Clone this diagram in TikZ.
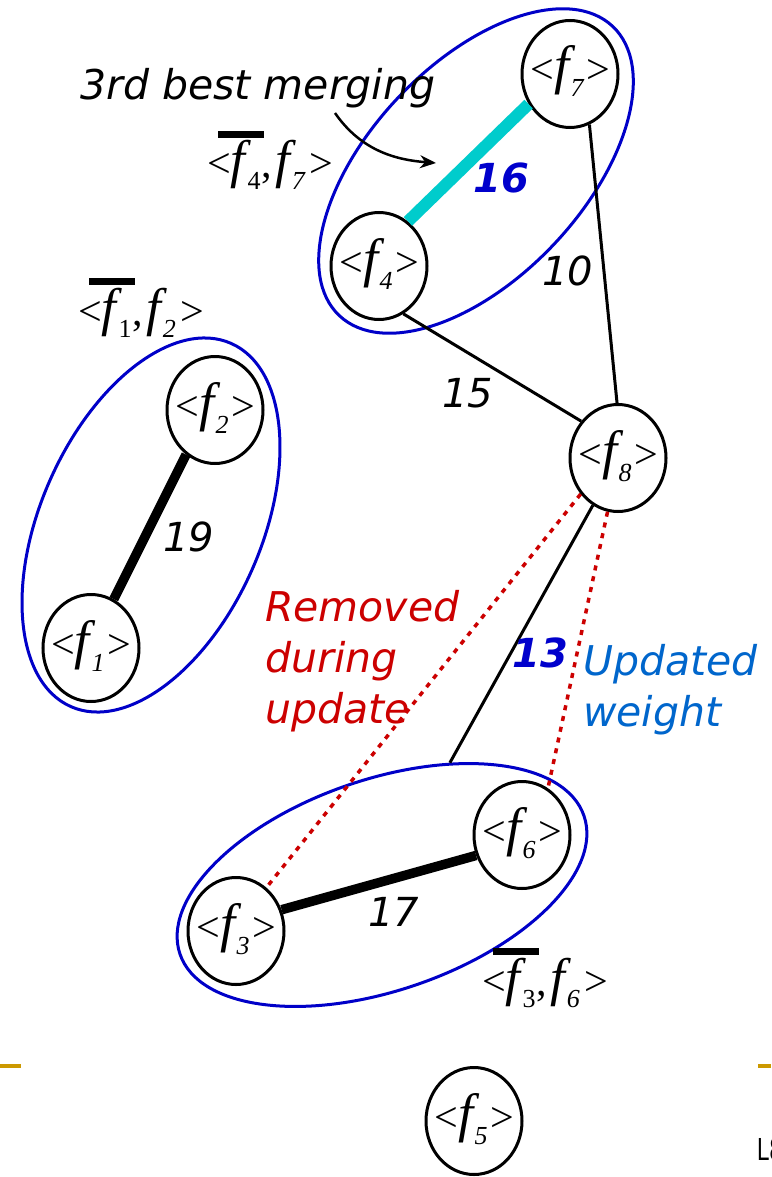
\documentclass[tikz,border=0pt]{standalone}
\usepackage{fontspec}
\usetikzlibrary{shapes.geometric,arrows.meta}
\newfontfamily\vfont{DejaVu Sans}
\newfontfamily\tfont{Liberation Serif}
\definecolor{grpblue}{RGB}{0,0,200}
\definecolor{wblue}{RGB}{0,0,204}
\definecolor{updblue}{RGB}{0,102,204}
\definecolor{remred}{RGB}{204,0,0}
\definecolor{mergecyan}{RGB}{0,204,204}
\definecolor{rulegold}{RGB}{204,153,0}
% <f_i> inside a cluster node (zero-size box so the ellipse keeps its own size)
\newcommand\fsub[1]{\makebox[0pt]{\smash{\raisebox{-10pt}{\tfont\fontsize{42pt}{42pt}\selectfont\textless{\fontsize{54pt}{54pt}\selectfont\itshape f}\kern1.5pt\raisebox{-13pt}{\fontsize{26pt}{26pt}\selectfont\itshape #1}\kern2.5pt\textgreater}}}}
% <f_a,f_b> with the bar over the first member
\newcommand\fpair[2]{{\tfont\fontsize{42pt}{42pt}\selectfont\rlap{\kern11pt\raisebox{40pt}{\rule{46pt}{7pt}}}\textless{\fontsize{53pt}{53pt}\selectfont\itshape f}\kern2pt\raisebox{-12pt}{\fontsize{26pt}{26pt}\selectfont #1}\kern1pt,\kern3pt{\fontsize{53pt}{53pt}\selectfont\itshape f}\kern2pt\raisebox{-12pt}{\fontsize{26pt}{26pt}\selectfont\itshape #2}\kern5pt\textgreater}}
\tikzset{
  x=1pt, y=-1pt,
  fnode/.style={ellipse, draw=black, line width=3pt, fill=white, minimum width=96pt, minimum height=107pt, inner sep=0pt},
  grp/.style={ellipse, draw=grpblue, line width=3pt, inner sep=0pt},
  edge/.style={draw=black, line width=3pt},
  heavy/.style={draw=black, line width=9.5pt},
  merged/.style={draw=mergecyan, line width=12pt},
  rdot/.style={draw=remred, line width=3.5pt, dash pattern=on 5pt off 6pt},
  num/.style={inner sep=0pt, font=\vfont\fontsize{40pt}{48pt}\selectfont\itshape},
  wnum/.style={num, text=wblue, font=\vfont\fontsize{40pt}{48pt}\selectfont\bfseries\itshape},
  note/.style={inner sep=0pt, anchor=base west, align=left, font=\vfont\fontsize{41pt}{51pt}\selectfont\itshape},
}
\begin{document}
\begin{tikzpicture}
\clip (0,0) rectangle (771,1177);
\fill[white] (0,0) rectangle (771,1177);

% merged groups
\node[grp, rotate=46.6, minimum width=398pt, minimum height=214pt] (g47) at (476,171) {};
\node[grp, rotate=66.2, minimum width=397pt, minimum height=221pt] (g12) at (151,525) {};
\node[grp, rotate=18.9, minimum width=427pt, minimum height=211pt] (g36) at (382,885) {};

% clusters
\node[fnode] (f7) at (570,74) {\fsub{7}};
\node[fnode] (f4) at (379,266) {\fsub{4}};
\node[fnode] (f2) at (215,410) {\fsub{2}};
\node[fnode] (f1) at (91,648) {\fsub{1}};
\node[fnode] (f8) at (618,458) {\fsub{8}};
\node[fnode] (f6) at (522,835) {\fsub{6}};
\node[fnode] (f3) at (236,931) {\fsub{3}};
\node[fnode] (f5) at (474,1121) {\fsub{5}};

% edges
\draw[merged] (f4.57) -- (f7.216);
\draw[edge] (f7.-69) -- (f8.91);
\draw[edge] (f4.-63) -- (f8.135);
\draw[heavy] (f2.237) -- (f1.65);
\draw[heavy] (f3.25) -- (f6.204);
\draw[edge] (f8.242) -- (g36);
\draw[rdot] (f8.224) -- (f3.55);
\draw[rdot] (f8.259) -- (f6.61);

% weights
\node[wnum] (w16) at (501,178) {16};
\node[num] (w10) at (568,271) {10};
\node[num] (w15) at (468,393) {15};
\node[num] (w19) at (189,537) {19};
\node[wnum] (w13) at (540,653) {13};
\node[num] (w17) at (394,912) {17};

% annotations
\node[note] (best) at (80,100) {3rd best merging};
\coordinate (arrs) at (335,113);
\coordinate (arre) at (436,163);
\draw[line width=2.5pt, -{Stealth[length=16pt,width=13pt]}] (arrs) .. controls (362,152) and (398,160) .. (arre);
\node[note, text=remred] (rem) at (265,723) {Removed\\during\\update};
\node[note, text=updblue] (upd) at (583,726) {Updated\\weight};

\node[inner sep=0pt, anchor=base west] (p47) at (207,178) {\fpair{4}{7}};
\node[inner sep=0pt, anchor=base west] (p12) at (78,325) {\fpair{1}{2}};
\node[inner sep=0pt, anchor=base west] (p36) at (482,995) {\fpair{3}{6}};

% slide rule and page mark
\fill[rulegold] (0,1064) rectangle (21,1068);
\fill[rulegold] (758,1064) rectangle (771,1068);
\node[inner sep=0pt, anchor=base west, font=\fontspec{Liberation Sans}\fontsize{32pt}{32pt}\selectfont] (pg) at (757,1160) {\scalebox{0.7}[1]{L8}};
\end{tikzpicture}
\end{document}
